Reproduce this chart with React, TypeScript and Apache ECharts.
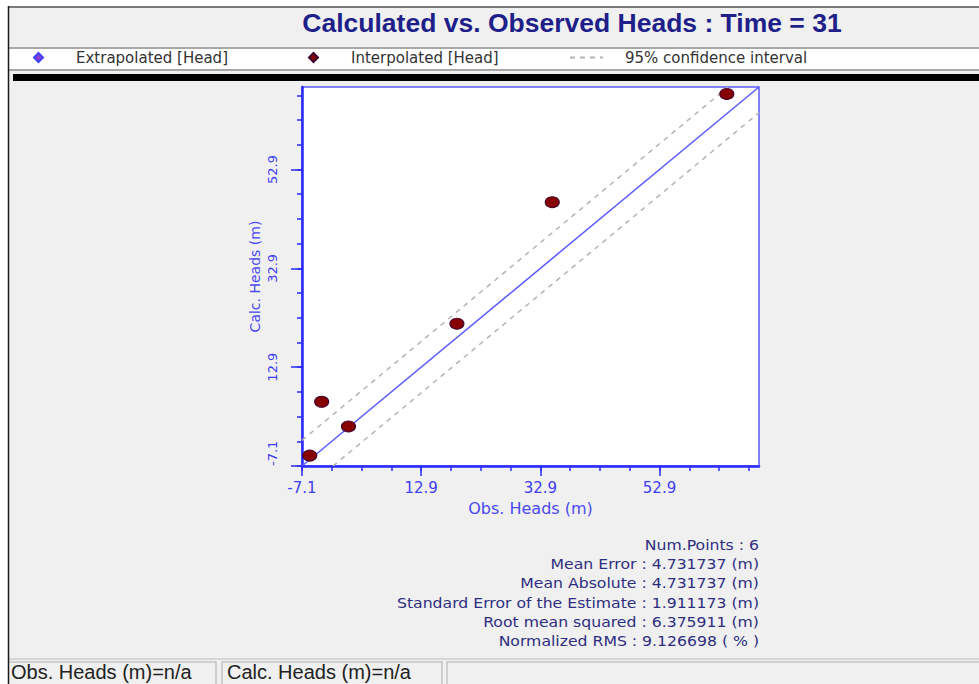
import React, { useEffect, useRef } from "react";
import * as echarts from "echarts";

// ---- data ----
const titleText = "Calculated vs. Observed Heads : Time = 31";
const obsHeads = [-5.8, -3.8, 0.7, 18.9, 34.9, 64.2];
const calcHeads = [-5.0, 5.9, 0.9, 21.7, 46.3, 68.2];
const extrapolated: number[][] = [];
const axisMin = -7.1;
const axisMax = 69.6;
const tickLabels = [-7.1, 12.9, 32.9, 52.9];
const minorTicks = [-7.1, -2.1, 2.9, 7.9, 12.9, 17.9, 22.9, 27.9, 32.9, 37.9, 42.9, 47.9, 52.9, 57.9, 62.9, 67.9];
const oneToOne = [[-7.1, -7.1], [69.6, 69.6]];
const ciUpper = [[-7.1, -1.9], [64.4, 69.6]];
const ciLower = [[-1.9, -7.1], [69.6, 64.4]];
const statLabels = ["Num.Points", "Mean Error", "Mean Absolute", "Standard Error of the Estimate", "Root mean squared", "Normalized RMS"];
const statValues = ["6", "4.731737 (m)", "4.731737 (m)", "1.911173 (m)", "6.375911 (m)", "9.126698 ( % )"];
const statusTexts = ["Obs. Heads (m)=n/a", "Calc. Heads (m)=n/a"];
const legendNames = ["Extrapolated [Head]", "Interpolated [Head]", "95% confidence interval"];

const W = 979;
const H = 684;
const AXIS_BLUE = "#2a2aff";
const LABEL_BLUE = "#3d3df2";
const WIDE = "DejaVu Sans, Verdana, sans-serif";
const ARIAL = "Liberation Sans, Arial, sans-serif";

export default function App() {
  const ref = useRef<HTMLDivElement>(null);
  useEffect(() => {
    if (!ref.current) return;
    const chart = echarts.init(ref.current, null, { renderer: "svg", width: W, height: H });

    const legendText = { color: "#333", fontFamily: WIDE, fontSize: 15 };

    const graphics: any[] = [
      // outer frame background
      { type: "rect", shape: { x: 8, y: 7, width: W - 8, height: H - 7 }, style: { fill: "#f0f0f0" }, z: -10, silent: true },
      // legend strip
      { type: "rect", shape: { x: 9, y: 49, width: W - 9, height: 20 }, style: { fill: "#ffffff" }, z: -9, silent: true },
      { type: "line", shape: { x1: 9, y1: 48, x2: W, y2: 48 }, style: { stroke: "#a8a8a8", lineWidth: 2 }, z: -8, silent: true },
      { type: "line", shape: { x1: 9, y1: 70, x2: W, y2: 70 }, style: { stroke: "#a8a8a8", lineWidth: 2 }, z: -8, silent: true },
      // black bar
      { type: "rect", shape: { x: 13, y: 74, width: W - 13, height: 7 }, style: { fill: "#000000" }, z: -8, silent: true },
      // title
      {
        type: "text", x: 572, y: 23, z: 5, silent: true,
        style: { text: titleText, fill: "#1f1f8a", font: "bold 26.5px " + ARIAL, align: "center", verticalAlign: "middle" },
      },
      // status bar
      { type: "line", shape: { x1: 9, y1: 659, x2: W, y2: 659 }, style: { stroke: "#d6d6d6", lineWidth: 2 }, z: -7, silent: true },
      { type: "rect", shape: { x: 6, y: 662, width: 210, height: 30 }, style: { fill: "none", stroke: "#c4c4c4", lineWidth: 1.5 }, z: -6, silent: true },
      { type: "rect", shape: { x: 222, y: 662, width: 220, height: 30 }, style: { fill: "none", stroke: "#c4c4c4", lineWidth: 1.5 }, z: -6, silent: true },
      { type: "rect", shape: { x: 447, y: 662, width: 540, height: 30 }, style: { fill: "none", stroke: "#c4c4c4", lineWidth: 1.5 }, z: -6, silent: true },
      {
        type: "text", x: 11, y: 672, z: 1, silent: true,
        style: { text: statusTexts[0], fill: "#222", font: "20px " + ARIAL, align: "left", verticalAlign: "middle" },
      },
      {
        type: "text", x: 227, y: 672, z: 1, silent: true,
        style: { text: statusTexts[1], fill: "#222", font: "20px " + ARIAL, align: "left", verticalAlign: "middle" },
      },
      // white margin outside frame and frame borders
      { type: "rect", shape: { x: 0, y: 0, width: 8, height: H }, style: { fill: "#ffffff" }, z: 20, silent: true },
      { type: "rect", shape: { x: 0, y: 0, width: W, height: 6 }, style: { fill: "#ffffff" }, z: 20, silent: true },
      { type: "line", shape: { x1: 8, y1: 7, x2: W, y2: 7 }, style: { stroke: "#7a7a7a", lineWidth: 2 }, z: 21, silent: true },
      { type: "line", shape: { x1: 8.5, y1: 6, x2: 8.5, y2: H }, style: { stroke: "#1a1a1a", lineWidth: 1.5 }, z: 21, silent: true },
    ];

    statLabels.forEach((lab, i) => {
      graphics.push({
        type: "text", x: 759, y: 545 + i * 19.3, scaleX: 1.12, z: 5, silent: true,
        style: { text: lab + " : " + statValues[i], fill: "#2e2e80", font: "14px " + WIDE, align: "right", verticalAlign: "middle" },
      });
    });

    const option: any = {
      animation: false,
      backgroundColor: "#ffffff",
      graphic: graphics,
      legend: [
        {
          data: [{ name: legendNames[0], icon: "diamond" }], left: 33, top: 50, padding: 0,
          itemWidth: 9, itemHeight: 9, textStyle: { ...legendText, padding: [0, 0, 0, 28] }, selectedMode: false,
        },
        {
          data: [{ name: legendNames[1], icon: "diamond" }], left: 308, top: 50, padding: 0,
          itemWidth: 9, itemHeight: 9, textStyle: { ...legendText, padding: [0, 0, 0, 28] }, selectedMode: false,
        },
        {
          data: [{ name: legendNames[2] }], left: 569, top: 50, padding: 0,
          itemWidth: 33, itemHeight: 10, itemStyle: { opacity: 0 },
          textStyle: { ...legendText, padding: [0, 0, 0, 17] }, selectedMode: false,
        },
      ],
      grid: { left: 302, right: W - 759, top: 87, bottom: H - 466, show: true, backgroundColor: "#ffffff", borderColor: "#5a5aff", borderWidth: 1.5 },
      xAxis: [
        {
          type: "value", min: axisMin, max: axisMax, position: "bottom",
          axisLine: { show: true, onZero: false, lineStyle: { color: AXIS_BLUE, width: 2.5 } },
          axisTick: { show: true, length: 10, customValues: tickLabels, lineStyle: { color: AXIS_BLUE, width: 1.5 } },
          axisLabel: { customValues: tickLabels, color: LABEL_BLUE, fontFamily: WIDE, fontSize: 15, margin: 14, formatter: (v: number) => v.toFixed(1) },
          splitLine: { show: false },
          name: "Obs. Heads (m)", nameLocation: "middle", nameGap: 34,
          nameTextStyle: { color: "#4a4af0", fontFamily: WIDE, fontSize: 16 },
        },
        {
          type: "value", min: axisMin, max: axisMax, position: "bottom",
          axisLine: { show: false, onZero: false },
          axisTick: { show: true, length: 5, customValues: minorTicks, lineStyle: { color: AXIS_BLUE, width: 1.5 } },
          axisLabel: { show: false },
          splitLine: { show: false },
        },
      ],
      yAxis: [
        {
          type: "value", min: axisMin, max: axisMax, position: "left",
          axisLine: { show: true, onZero: false, lineStyle: { color: AXIS_BLUE, width: 2.5 } },
          axisTick: { show: true, length: 11, customValues: tickLabels, lineStyle: { color: AXIS_BLUE, width: 1.5 } },
          axisLabel: {
            customValues: tickLabels, rotate: 90, color: LABEL_BLUE, fontFamily: WIDE, fontSize: 13, margin: 23,
            alignMinLabel: "left", formatter: (v: number) => v.toFixed(1),
          },
          splitLine: { show: false },
          name: "Calc. Heads (m)", nameLocation: "middle", nameGap: 40,
          nameTextStyle: { color: "#4a4af0", fontFamily: WIDE, fontSize: 14 },
        },
        {
          type: "value", min: axisMin, max: axisMax, position: "left",
          axisLine: { show: false, onZero: false },
          axisTick: { show: true, length: 5, customValues: minorTicks, lineStyle: { color: AXIS_BLUE, width: 1.5 } },
          axisLabel: { show: false },
          splitLine: { show: false },
        },
      ],
      series: [
        {
          name: legendNames[0], type: "scatter", data: extrapolated, symbol: "diamond",
          itemStyle: { color: "#8a3ccc", borderColor: "#4040ff", borderWidth: 1, opacity: 1 },
        },
        {
          name: "1:1", type: "line", data: oneToOne, symbol: "none", silent: true,
          lineStyle: { color: "#5a5aff", width: 1.5 }, z: 2,
        },
        {
          name: legendNames[2], type: "line", data: ciUpper, symbol: "none", silent: true,
          itemStyle: { color: "#b4b4b4" },
          lineStyle: { color: "#b4b4b4", width: 1.5, type: [5, 5] }, z: 2,
        },
        {
          name: legendNames[2], type: "line", data: ciLower, symbol: "none", silent: true,
          itemStyle: { color: "#b4b4b4" },
          lineStyle: { color: "#b4b4b4", width: 1.5, type: [5, 5] }, z: 2,
        },
        {
          name: legendNames[1], type: "scatter", symbol: "circle", symbolSize: [14, 11],
          data: obsHeads.map((x, i) => [x, calcHeads[i]]),
          itemStyle: { color: "#860000", borderColor: "#3a0030", borderWidth: 1, opacity: 1 }, z: 5,
        },
      ],
    };
    chart.setOption(option);
    return () => chart.dispose();
  }, []);
  return <div ref={ref} style={{ position: "fixed", left: 0, top: 0, width: W, height: H }} />;
}
